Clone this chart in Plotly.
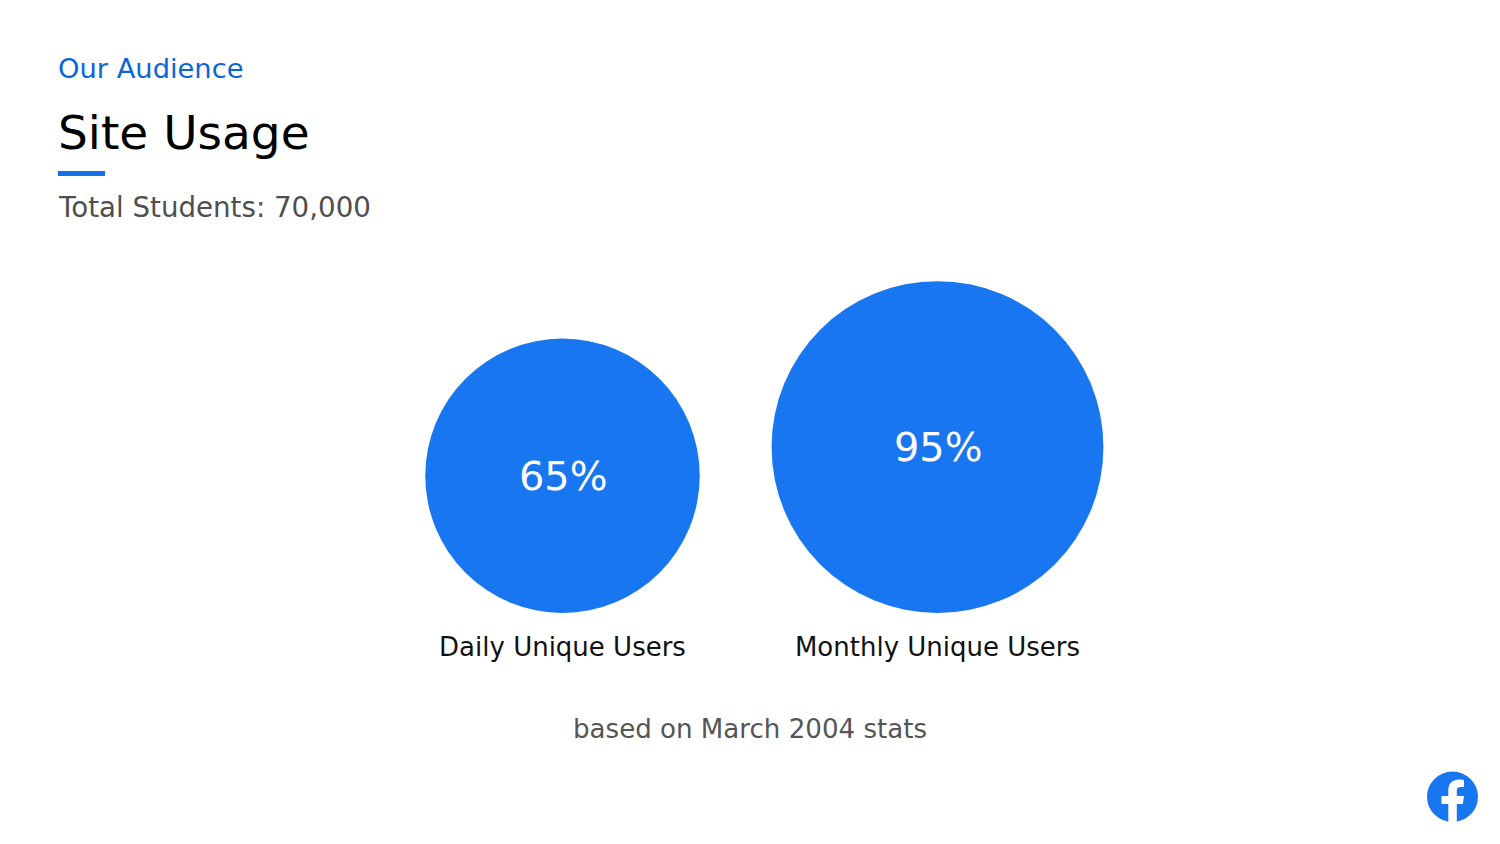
import math
import plotly.graph_objects as go

categories = ["Daily Unique Users", "Monthly Unique Users"]
values = [65, 95]
value_labels = ["65%", "95%"]
eyebrow = "Our Audience"
title = "Site Usage"
subtitle = "Total Students: 70,000"
footnote = "based on March 2004 stats"

FONT = "DejaVu Sans"
BLUE = "#1877F0"
W, H = 1500, 844
PLOT_BOTTOM = 629
BASELINE = 613
SIZEREF = 2 * 65 / 274.5 ** 2
diameters = [math.sqrt(2 * v / SIZEREF) for v in values]
ys = [BASELINE - d / 2 for d in diameters]

def px(x):
    return x / W

def py(y):
    return (PLOT_BOTTOM - y) / PLOT_BOTTOM

fig = go.Figure()
fig.add_trace(go.Scatter(
    x=categories, y=ys, mode="markers",
    marker=dict(size=values, sizemode="area", sizeref=SIZEREF, color=BLUE, opacity=1,
                line=dict(width=0)),
    hoverinfo="skip", cliponaxis=False, showlegend=False,
))

for cat, y, label in zip(categories, ys, value_labels):
    fig.add_annotation(x=cat, y=y, text=label, showarrow=False, xanchor="center", yanchor="middle",
                       font=dict(family=FONT, size=39.8, color="white"))

def note(x, y, text, size, color, anchor="left"):
    fig.add_annotation(xref="paper", yref="paper", x=px(x), y=py(y), text=text, showarrow=False,
                       xanchor=anchor, yanchor="middle",
                       font=dict(family=FONT, size=size, color=color), borderpad=0, borderwidth=0)

note(58, 68.5, eyebrow, 27.3, "#0A66D8")
note(58, 132, title, 47, "#000000")
note(58, 207, subtitle, 27.7, "#4F4F4F")
note(750, 728.5, footnote, 26.1, "#555555", "center")

fig.add_shape(type="rect", xref="paper", yref="paper", x0=px(58), x1=px(105), y0=py(176), y1=py(171),
              fillcolor="#1470E6", line_width=0)
fig.add_shape(type="circle", xref="paper", yref="paper", x0=px(1427), x1=px(1478), y0=py(822), y1=py(771.5),
              fillcolor=BLUE, line_width=0)

def P(x, y):
    return f"{px(x):.6f},{py(y):.6f}"

logo_f = ("M" + P(1448.3, 822) + " L" + P(1448.3, 804) + " L" + P(1441.5, 804) + " L" + P(1441.5, 796)
          + " L" + P(1448.3, 796) + " L" + P(1448.3, 790.5)
          + " C" + P(1448.3, 783) + " " + P(1453, 779.5) + " " + P(1459, 779.5)
          + " C" + P(1461, 779.5) + " " + P(1463, 780) + " " + P(1464, 780.2)
          + " L" + P(1464, 787) + " L" + P(1460.5, 787)
          + " C" + P(1457.8, 787) + " " + P(1456.8, 788.5) + " " + P(1456.8, 790.5)
          + " L" + P(1456.8, 796) + " L" + P(1464, 796) + " L" + P(1462.8, 804)
          + " L" + P(1456.8, 804) + " L" + P(1456.8, 822) + " Z")
fig.add_shape(type="path", xref="paper", yref="paper", path=logo_f, fillcolor="white", line_width=0)

fig.update_layout(
    width=W, height=H, margin=dict(l=0, r=0, t=0, b=H - PLOT_BOTTOM),
    paper_bgcolor="white", plot_bgcolor="white", showlegend=False,
    xaxis=dict(type="category", categoryorder="array", categoryarray=categories,
               range=[-562.5 / 375, (W - 562.5) / 375],
               showgrid=False, zeroline=False, showline=False, ticks="", fixedrange=True,
               tickfont=dict(family=FONT, size=26, color="#111111")),
    yaxis=dict(range=[PLOT_BOTTOM, 0], visible=False, fixedrange=True),
)
fig.write_html("out.html", config=dict(displayModeBar=False),
               post_script="document.body.style.margin='0';window.dispatchEvent(new Event('resize'));")
